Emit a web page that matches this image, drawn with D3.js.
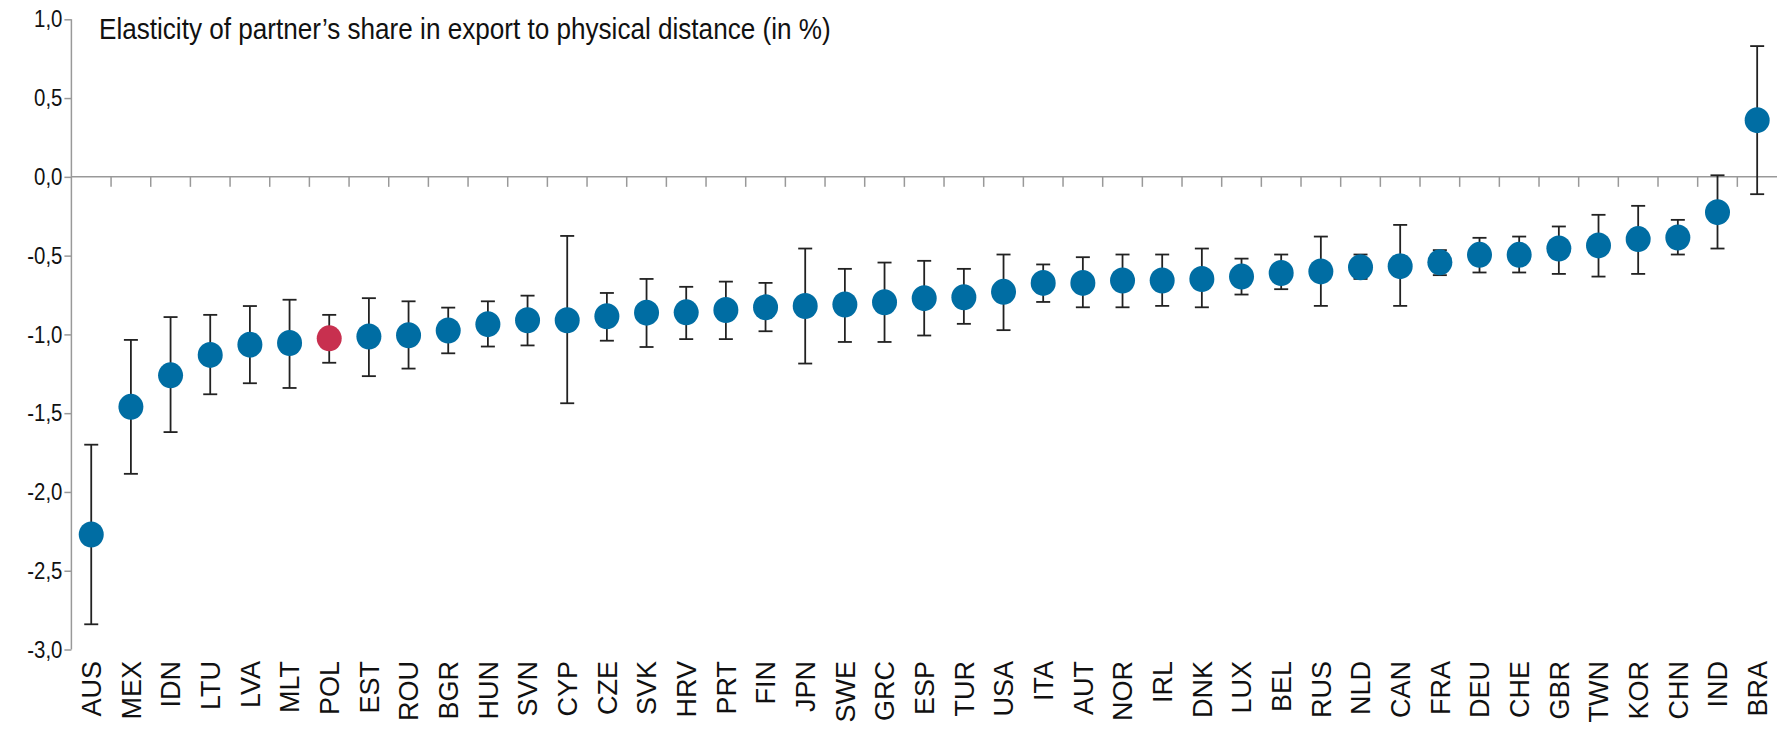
<!DOCTYPE html>
<html>
<head>
<meta charset="utf-8">
<script src="https://cdn.jsdelivr.net/npm/d3@7"></script>
<style>
  body { margin: 0; background: #fff; }
  svg { display: block; }
  text { font-family: "Liberation Sans", Arial, sans-serif; }
</style>
</head>
<body>
<svg id="chart"></svg>
<script>
// chart data
var countries = ["AUS","MEX","IDN","LTU","LVA","MLT","POL","EST","ROU","BGR","HUN","SVN","CYP","CZE","SVK","HRV","PRT","FIN","JPN","SWE","GRC","ESP","TUR","USA","ITA","AUT","NOR","IRL","DNK","LUX","BEL","RUS","NLD","CAN","FRA","DEU","CHE","GBR","TWN","KOR","CHN","IND","BRA"];
var estimate = [-2.27,-1.46,-1.26,-1.13,-1.065,-1.055,-1.025,-1.013,-1.005,-0.975,-0.935,-0.91,-0.91,-0.885,-0.862,-0.86,-0.845,-0.828,-0.82,-0.81,-0.796,-0.77,-0.764,-0.73,-0.673,-0.673,-0.658,-0.658,-0.648,-0.633,-0.61,-0.60,-0.574,-0.567,-0.542,-0.495,-0.495,-0.455,-0.435,-0.395,-0.385,-0.224,0.36];
var upper = [-1.70,-1.035,-0.89,-0.876,-0.82,-0.78,-0.876,-0.77,-0.79,-0.83,-0.79,-0.754,-0.375,-0.737,-0.648,-0.698,-0.665,-0.673,-0.455,-0.584,-0.544,-0.533,-0.584,-0.493,-0.556,-0.51,-0.493,-0.493,-0.455,-0.519,-0.493,-0.379,-0.493,-0.305,-0.465,-0.387,-0.379,-0.315,-0.241,-0.184,-0.273,0.01,0.83];
var lower = [-2.84,-1.885,-1.62,-1.38,-1.31,-1.34,-1.18,-1.265,-1.217,-1.12,-1.077,-1.07,-1.437,-1.04,-1.08,-1.03,-1.03,-0.98,-1.185,-1.048,-1.048,-1.007,-0.933,-0.973,-0.794,-0.828,-0.828,-0.819,-0.828,-0.747,-0.713,-0.819,-0.648,-0.819,-0.624,-0.607,-0.607,-0.616,-0.633,-0.616,-0.493,-0.455,-0.11];
var highlight = "POL";
var yTicks = [-3, -2.5, -2, -1.5, -1, -0.5, 0, 0.5, 1];
var title = "Elasticity of partner\u2019s share in export to physical distance (in %)";

var W = 1777, H = 729;
var m = { left: 71.4, right: 1777, top: 19.3, bottom: 649.5 };
var narrow = 0.85; // horizontal squeeze to imitate a narrow face

var svg = d3.select("#chart").attr("width", W).attr("height", H);

var x = d3.scaleBand().domain(countries).range([m.left, m.right]).padding(0);
var y = d3.scaleLinear().domain([-3, 1]).range([m.bottom, m.top]);

var fmt = function(d) { return d3.format(".1f")(d).replace(".", ",").replace("\u2212", "-"); };

// y axis
var yAxis = svg.append("g")
  .attr("transform", "translate(" + m.left + ",0)")
  .call(d3.axisLeft(y).tickValues(yTicks).tickSize(7).tickPadding(3).tickFormat(fmt));
yAxis.select(".domain").attr("stroke", "#999").attr("stroke-width", 1.5).attr("d", "M0," + y(1) + "V" + y(-3));
yAxis.selectAll(".tick line").attr("stroke", "#999").attr("stroke-width", 1.5);
yAxis.selectAll(".tick text")
  .attr("x", 0)
  .attr("transform", "translate(-9,0) scale(" + narrow + ",1)")
  .attr("font-size", 24)
  .attr("font-family", "Liberation Sans, Arial, sans-serif")
  .attr("fill", "#111");

// zero line with category ticks
var zero = svg.append("g").attr("transform", "translate(0," + y(0) + ")");
zero.append("line").attr("x1", m.left).attr("x2", m.right).attr("stroke", "#999").attr("stroke-width", 1.5);
zero.selectAll(".ctick").data(countries.slice(1)).enter().append("line")
  .attr("x1", function(d) { return x(d); })
  .attr("x2", function(d) { return x(d); })
  .attr("y1", 0).attr("y2", 10)
  .attr("stroke", "#999").attr("stroke-width", 1.5);

// category labels
svg.selectAll(".xlab").data(countries).enter().append("text")
  .attr("class", "xlab")
  .attr("transform", function(d) { return "translate(" + (x(d) + x.bandwidth() / 2) + "," + 661 + ") rotate(-90)"; })
  .attr("text-anchor", "end")
  .attr("dy", "0.36em")
  .attr("font-size", 27)
  .attr("fill", "#111")
  .text(function(d) { return d; });

// error bars
var data = countries.map(function(c, i) { return { c: c, v: estimate[i], hi: upper[i], lo: lower[i] }; });
var cx = function(d) { return x(d.c) + x.bandwidth() / 2; };
var bars = svg.append("g").attr("stroke", "#222").attr("stroke-width", 1.8);
bars.selectAll(".v").data(data).enter().append("line")
  .attr("x1", cx).attr("x2", cx)
  .attr("y1", function(d) { return y(d.hi); })
  .attr("y2", function(d) { return y(d.lo); });
bars.selectAll(".capHi").data(data).enter().append("line")
  .attr("x1", function(d) { return cx(d) - 7; }).attr("x2", function(d) { return cx(d) + 7; })
  .attr("y1", function(d) { return y(d.hi); }).attr("y2", function(d) { return y(d.hi); });
bars.selectAll(".capLo").data(data).enter().append("line")
  .attr("x1", function(d) { return cx(d) - 7; }).attr("x2", function(d) { return cx(d) + 7; })
  .attr("y1", function(d) { return y(d.lo); }).attr("y2", function(d) { return y(d.lo); });

// points
svg.selectAll(".pt").data(data).enter().append("ellipse")
  .attr("cx", cx)
  .attr("cy", function(d) { return y(d.v); })
  .attr("rx", 12.5).attr("ry", 13)
  .attr("fill", function(d) { return d.c === highlight ? "#C8304F" : "#006DA3"; });

// title, squeezed to the reference width
var t = svg.append("text")
  .attr("font-size", 30)
  .attr("fill", "#111")
  .text(title);
var tw = t.node().getComputedTextLength();
t.attr("transform", "translate(99,38.5) scale(" + (732 / tw) + ",1)");
</script>
</body>
</html>
